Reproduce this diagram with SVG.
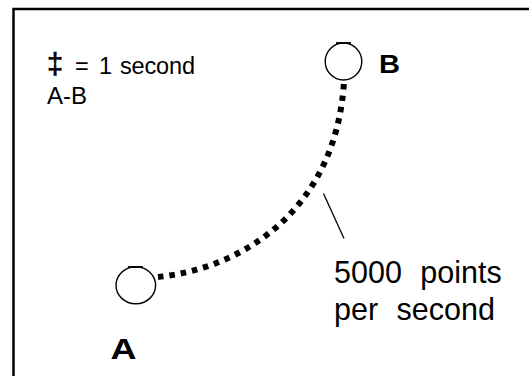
<svg xmlns="http://www.w3.org/2000/svg" width="529" height="376" viewBox="0 0 529 376">
<style>
.t{font-family:"Liberation Sans",Arial,sans-serif;fill:#000}
.lbl{font-family:"Liberation Sans",Arial,sans-serif;font-weight:bold;fill:#000}
.node{fill:#fff;stroke:#000;stroke-width:1.4}
.dots{fill:none;stroke:#000;stroke-width:6;stroke-dasharray:5.5 6}
</style>
<rect x="0" y="0" width="529" height="376" fill="#fff"/>
<path d="M13.5,376 V9 H529" fill="none" stroke="#000" stroke-width="2.5"/>
<g id="legend">
<text class="t" x="47" y="74" font-size="23.5"><tspan font-size="29" stroke="#000" stroke-width="0.6">‡</tspan><tspan x="75">=</tspan><tspan x="99">1</tspan><tspan x="120" textLength="75" lengthAdjust="spacing">second</tspan></text>
<text class="t" x="47" y="104" font-size="24">A-B</text>
</g>
<g id="connectors">
<path class="dots" d="M158,277 C245,268 336,208 344,82"/>
<line x1="323.5" y1="193.5" x2="344" y2="238.5" stroke="#000" stroke-width="1.3"/>
</g>
<g id="nodeB">
<ellipse class="node" cx="343.5" cy="61.5" rx="18.3" ry="18.5"/>
<line x1="336" y1="43" x2="351" y2="43" stroke="#000" stroke-width="1.8"/>
<text class="lbl" x="379" y="73" font-size="26" textLength="21" lengthAdjust="spacingAndGlyphs">B</text>
</g>
<g id="nodeA">
<ellipse class="node" cx="135.8" cy="285.3" rx="19.8" ry="18.5"/>
<line x1="128" y1="267" x2="143" y2="267" stroke="#000" stroke-width="1.8"/>
<text class="lbl" x="110.5" y="358.5" font-size="29" textLength="26" lengthAdjust="spacingAndGlyphs">A</text>
</g>
<g id="note">
<text class="t" x="334" y="283" font-size="30.5" word-spacing="10">5000 points</text>
<text class="t" x="334" y="320" font-size="30.5" word-spacing="10">per second</text>
</g>
</svg>
